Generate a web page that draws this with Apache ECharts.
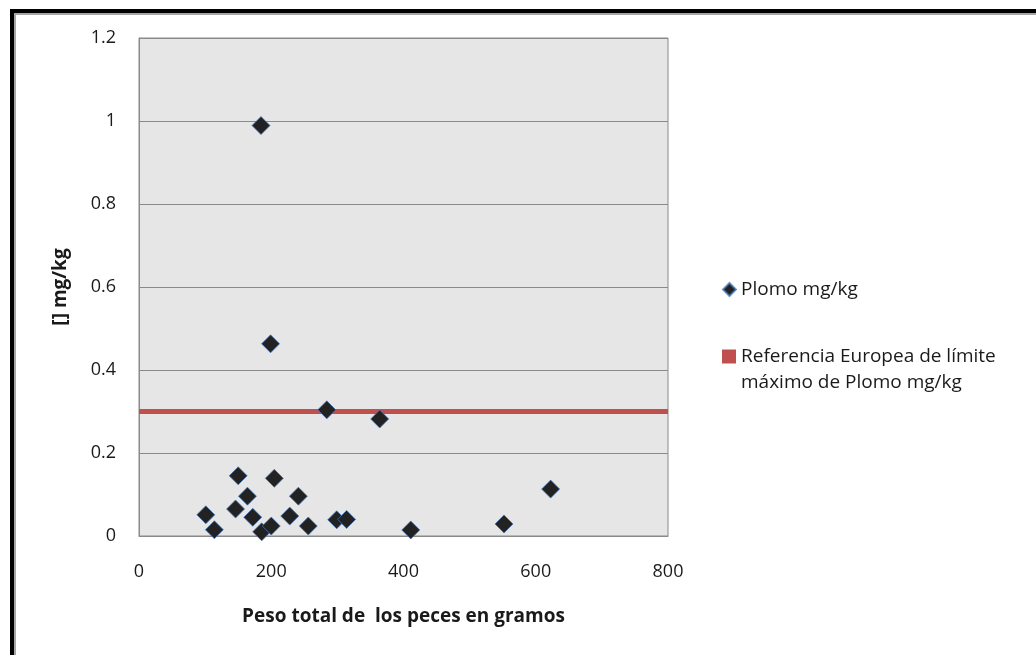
<!DOCTYPE html>
<html>
<head>
<meta charset="utf-8">
<script src="https://cdn.jsdelivr.net/npm/echarts@6/dist/echarts.min.js"></script>
<style>
html,body{margin:0;padding:0;background:#fff;}
#chart{width:1036px;height:655px;}
</style>
</head>
<body>
<div id="chart"></div>
<script>
// Data
const pesoGramos = [101, 114, 150, 146, 164, 172, 185.5, 200, 204.6, 228, 241, 256, 299, 314, 411, 552, 622.5, 184.5, 199, 284, 364];
const plomoMgKg  = [0.051, 0.015, 0.145, 0.065, 0.096, 0.045, 0.010, 0.024, 0.139, 0.048, 0.096, 0.024, 0.039, 0.040, 0.0145, 0.029, 0.113, 0.989, 0.463, 0.304, 0.282];
const limiteX = [0, 800];
const limiteY = [0.3, 0.3];
const serieNombre = 'Plomo mg/kg';
const limiteNombre = 'Referencia Europea de límite máximo de Plomo mg/kg';
const limiteLinea1 = 'Referencia Europea de límite';
const limiteLinea2 = 'máximo de Plomo mg/kg';
const xTitulo = 'Peso total de  los peces en gramos';
const yTitulo = '[] mg/kg';

const fontFam = '"Open Sans", Lato, sans-serif';
const chart = echarts.init(document.getElementById('chart'), null, {renderer: 'canvas'});

chart.setOption({
  animation: false,
  backgroundColor: '#ffffff',
  grid: {
    left: 139, top: 38, right: 368, bottom: 119,
    show: true, backgroundColor: '#e6e6e6', borderColor: '#8a8a8a', borderWidth: 1,
    containLabel: false
  },
  xAxis: {
    type: 'value', min: 0, max: 800, interval: 200,
    axisLine: {show: true, lineStyle: {color: '#8a8a8a', width: 1}},
    axisTick: {show: false},
    splitLine: {show: false},
    axisLabel: {color: '#1a1a1a', fontFamily: fontFam, fontSize: 18, margin: 27},
    name: xTitulo, nameLocation: 'middle', nameGap: 71,
    nameTextStyle: {color: '#1a1a1a', fontFamily: fontFam, fontSize: 19, fontWeight: 'bold'}
  },
  yAxis: {
    type: 'value', min: 0, max: 1.2, interval: 0.2,
    axisLine: {show: true, lineStyle: {color: '#8a8a8a', width: 1}},
    axisTick: {show: false},
    splitLine: {show: true, lineStyle: {color: '#8a8a8a', width: 1.2}},
    axisLabel: {color: '#1a1a1a', fontFamily: fontFam, fontSize: 18, margin: 23},
    name: yTitulo, nameLocation: 'middle', nameGap: 69, nameRotate: 90,
    nameTextStyle: {color: '#1a1a1a', fontFamily: fontFam, fontSize: 19, fontWeight: 'bold'}
  },
  legend: [
    {
      data: [{name: serieNombre, icon: 'diamond'}],
      left: 722, top: 280, padding: 0,
      itemWidth: 13, itemHeight: 13, itemGap: 0,
      textStyle: {color: '#1a1a1a', fontFamily: fontFam, fontSize: 19},
      selectedMode: false
    },
    {
      data: [{name: limiteNombre, icon: 'rect'}],
      left: 722, top: 347, padding: 0,
      itemWidth: 14, itemHeight: 14, itemGap: 0,
      formatter: function () { return limiteLinea1; },
      textStyle: {color: '#1a1a1a', fontFamily: fontFam, fontSize: 19},
      selectedMode: false
    }
  ],
  graphic: [
    {type: 'rect', shape: {x: 10, y: 9, width: 1030, height: 4}, style: {fill: '#000'}, silent: true},
    {type: 'rect', shape: {x: 10, y: 9, width: 4, height: 650}, style: {fill: '#000'}, silent: true},
    {type: 'rect', shape: {x: 14, y: 13, width: 1026, height: 2}, style: {fill: '#a6a6a6'}, silent: true},
    {type: 'rect', shape: {x: 14, y: 13, width: 2, height: 646}, style: {fill: '#a6a6a6'}, silent: true},
    {type: 'text', left: 741, top: 373, silent: true,
     style: {text: limiteLinea2, fill: '#1a1a1a', font: '19px ' + fontFam}}
  ],
  series: [
    {
      name: limiteNombre,
      type: 'line',
      data: limiteX.map((x, i) => [x, limiteY[i]]),
      symbol: 'none',
      lineStyle: {color: '#c0504d', width: 5},
      itemStyle: {color: '#c0504d'},
      z: 2
    },
    {
      name: serieNombre,
      type: 'scatter',
      data: pesoGramos.map((x, i) => [x, plomoMgKg[i]]),
      symbol: 'diamond',
      symbolSize: 18,
      itemStyle: {color: '#222222', borderColor: 'rgba(70,120,190,0.75)', borderWidth: 1, opacity: 1},
      z: 3
    }
  ]
});
</script>
</body>
</html>
